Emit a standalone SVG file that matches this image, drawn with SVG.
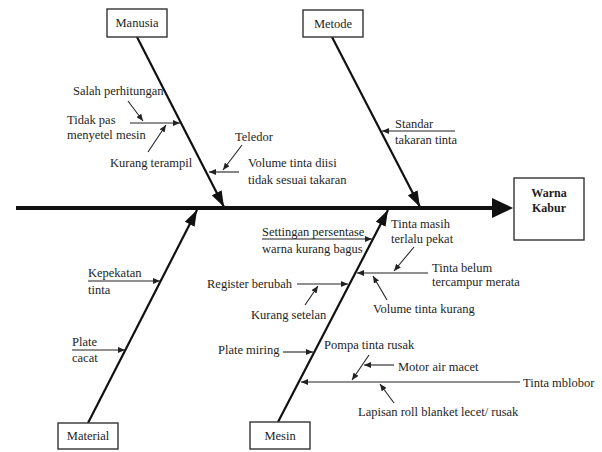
<svg xmlns="http://www.w3.org/2000/svg" width="602" height="452" viewBox="0 0 602 452">
<style>
  text { font-family: "Liberation Serif", "Times New Roman", serif; font-size: 12.5px; fill: #1e1e1e; }
  .bold { font-weight: bold; font-size: 12px; }
  .box { fill: #fff; stroke: #333; stroke-width: 1.4; }
  .main { stroke: #111; stroke-width: 2.2; fill: none; marker-end: url(#big); }
  .sub { stroke: #222; stroke-width: 1.1; fill: none; marker-end: url(#small); }
</style>
<defs>
  <marker id="big" viewBox="0 0 16 11" refX="16" refY="5.5" markerWidth="16" markerHeight="11" markerUnits="userSpaceOnUse" orient="auto">
    <path d="M0,0 L16,5.5 L0,11 z" fill="#111"/>
  </marker>
  <marker id="small" viewBox="0 0 7 6" refX="7" refY="3" markerWidth="7" markerHeight="6" markerUnits="userSpaceOnUse" orient="auto">
    <path d="M0,0 L7,3 L0,6 z" fill="#222"/>
  </marker>
</defs>
<rect width="602" height="452" fill="#fff"/>

<g id="connectors">
  <line x1="16" y1="208" x2="495" y2="208" stroke="#111" stroke-width="4"/>
  <polygon points="492,198 513,208 492,218" fill="#111"/>
  <line class="main" x1="137" y1="37" x2="224" y2="207"/>
  <line class="main" x1="332" y1="37" x2="420" y2="207"/>
  <line class="main" x1="88" y1="423" x2="197" y2="210"/>
  <line class="main" x1="278" y1="422" x2="388" y2="210"/>

  <line class="sub" x1="130" y1="123" x2="180" y2="123"/>
  <line class="sub" x1="128" y1="101" x2="143" y2="121"/>
  <line class="sub" x1="148" y1="152" x2="166" y2="125"/>
  <line class="sub" x1="239" y1="172" x2="209" y2="172"/>
  <line class="sub" x1="242" y1="145" x2="223" y2="170"/>

  <line class="sub" x1="455" y1="131" x2="382" y2="131"/>

  <line class="sub" x1="88" y1="281" x2="160" y2="281"/>
  <line class="sub" x1="72" y1="350" x2="125" y2="350"/>

  <line class="sub" x1="262" y1="239" x2="372" y2="239"/>
  <line class="sub" x1="297" y1="284" x2="348" y2="284"/>
  <line class="sub" x1="305" y1="305" x2="318" y2="286"/>
  <line class="sub" x1="428" y1="273" x2="357" y2="273"/>
  <line class="sub" x1="414" y1="247" x2="394" y2="271"/>
  <line class="sub" x1="387" y1="300" x2="373" y2="276"/>
  <line class="sub" x1="283" y1="352" x2="313" y2="352"/>
  <line class="sub" x1="369" y1="355" x2="352" y2="380"/>
  <line class="sub" x1="394" y1="365" x2="364" y2="365"/>
  <line class="sub" x1="520" y1="382" x2="301" y2="382"/>
  <line class="sub" x1="394" y1="403" x2="380" y2="384"/>
</g>

<g id="node-warna-kabur">
  <rect class="box" x="514" y="178" width="70" height="62"/>
  <text class="bold" x="549" y="197" text-anchor="middle">Warna</text>
  <text class="bold" x="549" y="212" text-anchor="middle">Kabur</text>
</g>
<g id="node-manusia">
  <rect class="box" x="107" y="9" width="60" height="28"/>
  <text x="137" y="27" text-anchor="middle">Manusia</text>
</g>
<g id="node-metode">
  <rect class="box" x="303" y="10" width="60" height="27"/>
  <text x="333" y="28" text-anchor="middle">Metode</text>
</g>
<g id="node-material">
  <rect class="box" x="58" y="423" width="60" height="26"/>
  <text x="88" y="440" text-anchor="middle">Material</text>
</g>
<g id="node-mesin">
  <rect class="box" x="250" y="422" width="60" height="27"/>
  <text x="280" y="440" text-anchor="middle">Mesin</text>
</g>

<g id="causes-manusia">
  <text x="73" y="95">Salah perhitungan</text>
  <text x="67" y="124">Tidak pas</text>
  <text x="67" y="139">menyetel mesin</text>
  <text x="110" y="167">Kurang terampil</text>
  <text x="235" y="141">Teledor</text>
  <text x="248" y="167">Volume tinta diisi</text>
  <text x="248" y="184">tidak sesuai takaran</text>
</g>
<g id="causes-metode">
  <text x="395" y="128">Standar</text>
  <text x="395" y="144">takaran tinta</text>
</g>
<g id="causes-material">
  <text x="88" y="277">Kepekatan</text>
  <text x="88" y="294">tinta</text>
  <text x="72" y="346">Plate</text>
  <text x="72" y="362">cacat</text>
</g>
<g id="causes-mesin">
  <text x="262" y="236">Settingan persentase</text>
  <text x="262" y="253">warna kurang bagus</text>
  <text x="207" y="288">Register berubah</text>
  <text x="251" y="319">Kurang setelan</text>
  <text x="391" y="228">Tinta masih</text>
  <text x="391" y="243">terlalu pekat</text>
  <text x="432" y="272">Tinta belum</text>
  <text x="432" y="286">tercampur merata</text>
  <text x="373" y="313">Volume tinta kurang</text>
  <text x="218" y="354">Plate miring</text>
  <text x="324" y="349">Pompa tinta rusak</text>
  <text x="398" y="371">Motor air macet</text>
  <text x="523" y="387">Tinta mblobor</text>
  <text x="358" y="416">Lapisan roll blanket lecet/ rusak</text>
</g>
</svg>
